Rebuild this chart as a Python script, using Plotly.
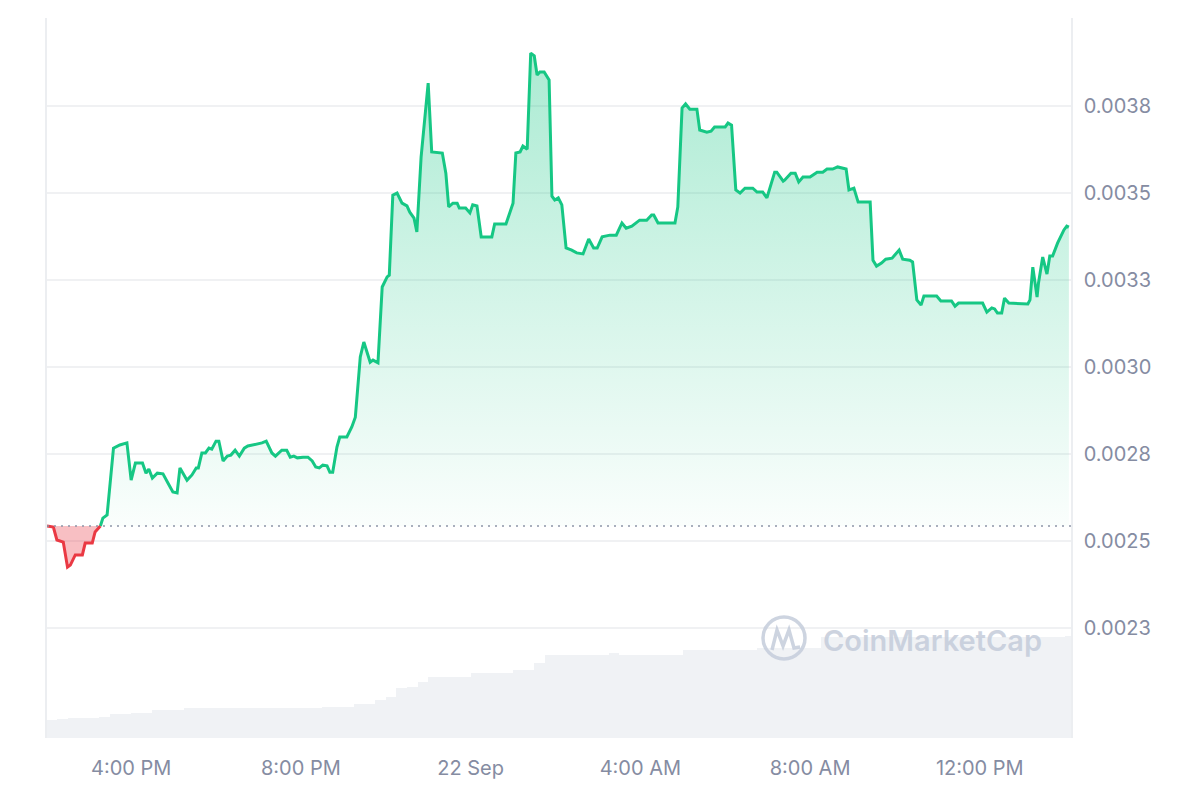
import numpy as np
import pandas as pd
import plotly.graph_objects as go

# ---------------- data ----------------
start_time = "2024-09-21 14:00"

# minutes after start_time for each price sample
minutes = [1, 10, 15, 24, 30, 34, 41, 51, 55, 65,
           69, 76, 80, 86, 95, 104, 114, 120, 126, 136,
           141, 145, 150, 157, 165, 172, 179, 185, 189, 199,
           206, 212, 215, 220, 225, 230, 234, 240, 244, 250,
           256, 261, 267, 273, 280, 285, 292, 298, 305, 311,
           319, 324, 329, 333, 340, 345, 350, 355, 363, 370,
           376, 381, 386, 391, 397, 401, 405, 411, 415, 425,
           432, 437, 444, 449, 458, 462, 469, 475, 482, 485,
           490, 496, 503, 510, 514, 520, 524, 530, 540, 545,
           560, 565, 569, 575, 581, 584, 593, 599, 603, 609,
           615, 630, 634, 650, 660, 664, 670, 674, 680, 685,
           690, 694, 698, 704, 711, 715, 719, 724, 729, 735,
           743, 750, 759, 767, 774, 779, 786, 797, 806, 814,
           820, 828, 839, 849, 856, 859, 865, 889, 893, 899,
           904, 910, 920, 924, 934, 940, 945, 960, 964, 969,
           975, 981, 988, 999, 1005, 1013, 1019, 1030, 1033, 1042,
           1044, 1053, 1059, 1064, 1070, 1080, 1090, 1098, 1104, 1112,
           1119, 1125, 1131, 1135, 1142, 1148, 1165, 1169, 1174, 1181,
           1187, 1196, 1201, 1206, 1211, 1221, 1225, 1231, 1237, 1241,
           1259, 1265, 1280, 1285, 1290, 1299, 1324, 1330, 1337, 1341,
           1345, 1351, 1355, 1361, 1388, 1391, 1395, 1401, 1403, 1409,
           1415, 1419, 1423, 1430, 1439, 1443, 1446]

price = [0.002543, 0.002540, 0.002503, 0.002497, 0.002425, 0.002431, 0.002460, 0.002460, 0.002494, 0.002494,
         0.002526, 0.002540, 0.002566, 0.002575, 0.002767, 0.002776, 0.002782, 0.002675, 0.002724, 0.002724,
         0.002695, 0.002707, 0.002681, 0.002695, 0.002693, 0.002667, 0.002641, 0.002638, 0.002710, 0.002675,
         0.002690, 0.002710, 0.002710, 0.002753, 0.002753, 0.002767, 0.002764, 0.002787, 0.002787, 0.002730,
         0.002744, 0.002747, 0.002761, 0.002744, 0.002767, 0.002773, 0.002776, 0.002779, 0.002782, 0.002787,
         0.002753, 0.002744, 0.002753, 0.002761, 0.002761, 0.002741, 0.002744, 0.002739, 0.002741, 0.002741,
         0.002730, 0.002713, 0.002710, 0.002718, 0.002716, 0.002698, 0.002698, 0.002770, 0.002799, 0.002799,
         0.002828, 0.002856, 0.003029, 0.003072, 0.003014, 0.003020, 0.003012, 0.003230, 0.003259, 0.003264,
         0.003494, 0.003500, 0.003471, 0.003463, 0.003445, 0.003428, 0.003388, 0.003603, 0.003816, 0.003618,
         0.003615, 0.003557, 0.003460, 0.003471, 0.003471, 0.003457, 0.003457, 0.003443, 0.003466, 0.003463,
         0.003374, 0.003374, 0.003411, 0.003411, 0.003471, 0.003615, 0.003618, 0.003635, 0.003626, 0.003902,
         0.003894, 0.003839, 0.003848, 0.003848, 0.003825, 0.003491, 0.003480, 0.003486, 0.003466, 0.003342,
         0.003336, 0.003328, 0.003325, 0.003368, 0.003342, 0.003342, 0.003374, 0.003379, 0.003379, 0.003414,
         0.003399, 0.003405, 0.003422, 0.003422, 0.003437, 0.003437, 0.003414, 0.003414, 0.003460, 0.003744,
         0.003756, 0.003741, 0.003741, 0.003681, 0.003675, 0.003678, 0.003690, 0.003690, 0.003701, 0.003695,
         0.003509, 0.003500, 0.003514, 0.003514, 0.003503, 0.003503, 0.003486, 0.003560, 0.003560, 0.003534,
         0.003537, 0.003557, 0.003557, 0.003532, 0.003546, 0.003546, 0.003560, 0.003560, 0.003569, 0.003569,
         0.003575, 0.003572, 0.003569, 0.003509, 0.003514, 0.003474, 0.003474, 0.003307, 0.003290, 0.003299,
         0.003310, 0.003313, 0.003325, 0.003336, 0.003310, 0.003307, 0.003302, 0.003193, 0.003178, 0.003204,
         0.003204, 0.003190, 0.003190, 0.003175, 0.003184, 0.003184, 0.003184, 0.003158, 0.003170, 0.003167,
         0.003155, 0.003155, 0.003198, 0.003184, 0.003181, 0.003193, 0.003287, 0.003201, 0.003241, 0.003316,
         0.003267, 0.003319, 0.003319, 0.003356, 0.003394, 0.003405, 0.003402]

# 15-minute volume bars (relative, USD)
volume_interval_min = 15
volume = [180000, 190000, 200000, 200000, 200000, 210000, 240000, 240000, 250000, 250000,
          280000, 280000, 280000, 300000, 300000, 300000, 300000, 300000, 300000, 300000,
          300000, 300000, 300000, 300000, 300000, 300000, 310000, 310000, 310000, 340000,
          340000, 380000, 410000, 500000, 510000, 560000, 610000, 610000, 610000, 610000,
          650000, 650000, 650000, 650000, 680000, 680000, 750000, 830000, 830000, 830000,
          830000, 830000, 830000, 850000, 830000, 830000, 830000, 830000, 830000, 830000,
          880000, 880000, 880000, 880000, 880000, 880000, 880000, 900000, 900000, 900000,
          900000, 900000, 900000, 1010000, 1010000, 1010000, 1010000, 1010000, 1010000, 1010000,
          1010000, 1010000, 1010000, 1010000, 1010000, 1010000, 1010000, 1010000, 1010000, 1010000,
          1010000, 1010000, 1010000, 1010000, 1010000, 1010000, 1020000]

tick_times = ["2024-09-21 16:00", "2024-09-21 20:00", "2024-09-22 00:00",
              "2024-09-22 04:00", "2024-09-22 08:00", "2024-09-22 12:00"]
tick_labels = ["4:00 PM", "8:00 PM", "22 Sep", "4:00 AM", "8:00 AM", "12:00 PM"]

y_tick_vals = [0.00225, 0.0025, 0.00275, 0.003, 0.00325, 0.0035, 0.00375]
y_tick_labels = ["0.0023", "0.0025", "0.0028", "0.0030", "0.0033", "0.0035", "0.0038"]

# ---------------- processing ----------------
t0 = pd.Timestamp(start_time)
tm = np.array(minutes, dtype=float)
p = np.array(price, dtype=float)
base = p[0]

xs, ys = [tm[0]], [p[0]]
for i in range(1, len(p)):
    a, b = p[i - 1] - base, p[i] - base
    if a * b < 0:
        f = a / (a - b)
        xs.append(tm[i - 1] + f * (tm[i] - tm[i - 1]))
        ys.append(base)
    xs.append(tm[i])
    ys.append(p[i])
xs = np.array(xs)
ys = np.array(ys)
times = t0 + pd.to_timedelta(xs, unit="m")

green_line = np.where(ys >= base, ys, np.nan)
red_line = np.where(ys <= base, ys, np.nan)

vol_times = t0 + pd.to_timedelta(np.arange(len(volume)) * volume_interval_min + volume_interval_min / 2, unit="m")

GREEN = "#16c784"
RED = "#ea3943"
LABEL = "#858ca2"
WM = "rgba(196,204,218,0.85)"

fig = go.Figure()

# volume (secondary axis)
fig.add_trace(go.Bar(x=vol_times, y=volume, yaxis="y2",
                     width=volume_interval_min * 60 * 1000,
                     marker=dict(color="#f0f2f5", line=dict(width=0)),
                     hoverinfo="skip", showlegend=False))

# green fill
fig.add_trace(go.Scatter(x=times, y=[base] * len(ys), mode="lines", line=dict(width=0),
                         hoverinfo="skip", showlegend=False))
fig.add_trace(go.Scatter(x=times, y=np.maximum(ys, base), mode="lines", line=dict(width=0),
                         fill="tonexty",
                         fillgradient=dict(type="vertical",
                                           colorscale=[[0, "rgba(22,199,132,0.02)"],
                                                       [1, "rgba(22,199,132,0.36)"]],
                                           start=base, stop=float(ys.max())),
                         hoverinfo="skip", showlegend=False))
# red fill
fig.add_trace(go.Scatter(x=times, y=[base] * len(ys), mode="lines", line=dict(width=0),
                         hoverinfo="skip", showlegend=False))
fig.add_trace(go.Scatter(x=times, y=np.minimum(ys, base), mode="lines", line=dict(width=0),
                         fill="tonexty", fillcolor="rgba(234,57,67,0.32)",
                         hoverinfo="skip", showlegend=False))

# lines
fig.add_trace(go.Scatter(x=times, y=green_line, mode="lines",
                         line=dict(color=GREEN, width=3), connectgaps=False, showlegend=False))
fig.add_trace(go.Scatter(x=times, y=red_line, mode="lines",
                         line=dict(color=RED, width=3), connectgaps=False, showlegend=False))

# dotted baseline
fig.add_shape(type="line", xref="paper", x0=0, x1=1, yref="y", y0=base, y1=base,
              line=dict(color="#8d95a8", width=1.6, dash="2px,5px"), layer="above")

# watermark logo + text
def px2paper(px, py):
    return (px - 47) / 1024, (738 - py) / 720

cx0, cy0 = px2paper(763, 659)
cx1, cy1 = px2paper(805, 617)
fig.add_shape(type="circle", xref="paper", yref="paper", x0=cx0, y0=cy0, x1=cx1, y1=cy1,
              line=dict(color=WM, width=3.5), layer="above")
pts = [(772, 650), (777, 630), (783, 646), (789, 630), (794, 648), (800, 647)]
path = ""
for k, (a, b) in enumerate(pts):
    xp, yp = px2paper(a, b)
    path += ("M" if k == 0 else "L") + f"{xp:.4f},{yp:.4f} "
fig.add_shape(type="path", xref="paper", yref="paper", path=path,
              line=dict(color=WM, width=3.5), layer="above")
tx, ty = px2paper(821, 640)
fig.add_annotation(xref="paper", yref="paper", x=tx, y=ty, xanchor="left", yanchor="middle",
                   text="CoinMarketCap", showarrow=False,
                   font=dict(family="Inter", size=29, color=WM, weight=600))

fig.update_layout(
    width=1200, height=800,
    margin=dict(l=47, r=129, t=18, b=62),
    paper_bgcolor="white", plot_bgcolor="white",
    showlegend=False, bargap=0,
    font=dict(family="Inter", color=LABEL, size=20),
    xaxis=dict(type="date",
               range=[t0 + pd.Timedelta(minutes=1), t0 + pd.Timedelta(minutes=1449)],
               tickvals=pd.to_datetime(tick_times), ticktext=tick_labels,
               showgrid=False, zeroline=False, showline=False, ticks="",
               tickfont=dict(family="Inter", size=20, color=LABEL),
               ticklabelstandoff=16),
    yaxis=dict(side="right", range=[0.001934, 0.004003],
               tickvals=y_tick_vals, ticktext=y_tick_labels,
               showgrid=True, gridcolor="#f0f1f3", gridwidth=1.5, zeroline=False,
               showline=True, mirror=True, linecolor="#eceef1", linewidth=1.5,
               ticks="", ticklabelstandoff=7,
               tickfont=dict(family="Inter", size=20, color=LABEL)),
    yaxis2=dict(overlaying="y", range=[0, 7200000], visible=False, showgrid=False),
)

fig.write_html("out.html", config={"displayModeBar": False},
               post_script="document.body.style.margin='0';document.body.style.overflow='hidden';")
